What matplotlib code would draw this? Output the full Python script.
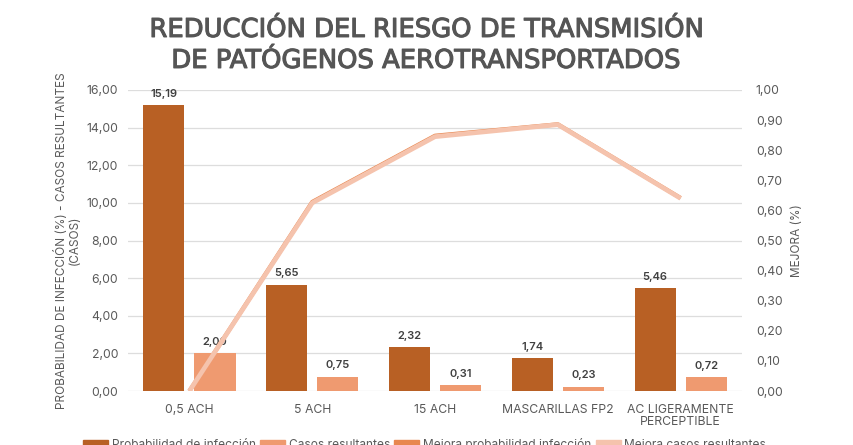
import matplotlib
matplotlib.use('Agg')
import matplotlib.pyplot as plt
import matplotlib.patheffects as pe
import numpy as np
from matplotlib.patches import Patch
from matplotlib.ticker import FuncFormatter

categorias = ['0,5 ACH', '5 ACH', '15 ACH', 'MASCARILLAS FP2', 'AC LIGERAMENTE\nPERCEPTIBLE']
prob_infeccion = [15.19, 5.65, 2.32, 1.74, 5.46]
casos_resultantes = [2.00, 0.75, 0.31, 0.23, 0.72]
mejora_prob = [0.0, 0.628, 0.848, 0.886, 0.641]
mejora_casos = [0.0, 0.625, 0.845, 0.885, 0.64]

c_oscuro = '#B86024'
c_claro = '#EF9A70'
c_linea1 = '#E8874F'
c_linea2 = '#F5C3AD'
gris = '#595959'

plt.rcParams['font.family'] = ['Inter', 'DejaVu Sans']

fig = plt.figure(figsize=(8.54, 4.45), dpi=100)
ax = fig.add_axes([0.1499, 0.1213, 0.7190, 0.6765])
ax2 = ax.twinx()

x = np.arange(len(categorias))
w = 0.335
b1 = ax.bar(x - 0.208, prob_infeccion, w, color=c_oscuro, zorder=3)
b2 = ax.bar(x + 0.208, casos_resultantes, w, color=c_claro, zorder=3)

for rect, v in zip(list(b1) + list(b2), prob_infeccion + casos_resultantes):
    ax.text(rect.get_x() + rect.get_width() / 2, v + 0.35, f'{v:.2f}'.replace('.', ','),
            ha='center', va='bottom', fontsize=8, fontweight='semibold', color='#404040')

ax2.plot(x, mejora_prob, color=c_linea1, lw=3, solid_capstyle='butt', zorder=4)
ax2.plot(x, mejora_casos, color=c_linea2, lw=3.4, solid_capstyle='butt', zorder=5)

ax.set_xlim(-0.5, 4.5)
ax.set_ylim(0, 16)
ax2.set_ylim(0, 1)
ax.set_yticks(np.arange(0, 16.1, 2))
ax2.set_yticks(np.arange(0, 1.01, 0.1))
ax.yaxis.set_major_formatter(FuncFormatter(lambda v, p: f'{v:.2f}'.replace('.', ',')))
ax2.yaxis.set_major_formatter(FuncFormatter(lambda v, p: f'{v:.2f}'.replace('.', ',')))
ax.set_xticks(x)
ax.set_xticklabels(categorias, fontsize=8.8, color=gris, linespacing=1.05)

ax.grid(axis='y', color='#DDDDDD', lw=0.9, zorder=0)
ax.set_axisbelow(True)
for a in (ax, ax2):
    for s in a.spines.values():
        s.set_visible(False)
    a.tick_params(length=0, labelsize=8.8, labelcolor=gris)
ax.tick_params(axis='y', pad=7)
ax.tick_params(axis='x', pad=9)
ax2.tick_params(axis='y', pad=10)
ax2.set_zorder(ax.get_zorder() + 1)
ax.patch.set_visible(False)

ax.set_ylabel('PROBABILIDAD DE INFECCIÓN (%) - CASOS RESULTANTES\n(CASOS)',
              fontsize=8.5, color=gris, labelpad=4, linespacing=1.05)
ax2.set_ylabel('MEJORA (%)', fontsize=8.5, color=gris, labelpad=6)

fig.text(0.5, 0.962, 'REDUCCIÓN DEL RIESGO DE TRANSMISIÓN\nDE PATÓGENOS AEROTRANSPORTADOS',
         ha='center', va='top', fontsize=18.6, fontweight='normal', color='#555555',
         linespacing=1.25, family='DejaVu Sans',
         path_effects=[pe.withStroke(linewidth=0.8, foreground='#555555')])

handles = [Patch(color=c_oscuro), Patch(color=c_claro), Patch(color=c_linea1), Patch(color=c_linea2)]
labels = ['Probabilidad de infección', 'Casos resultantes', 'Mejora probabilidad infección',
          'Mejora casos resultantes']
fig.legend(handles, labels, loc='lower left', bbox_to_anchor=(0.085, -0.037), ncol=4, frameon=False,
           fontsize=8.6, handlelength=2.1, handleheight=0.6, handletextpad=0.3, columnspacing=0.35,
           labelcolor=gris)

fig.savefig('out.png', dpi=100)
